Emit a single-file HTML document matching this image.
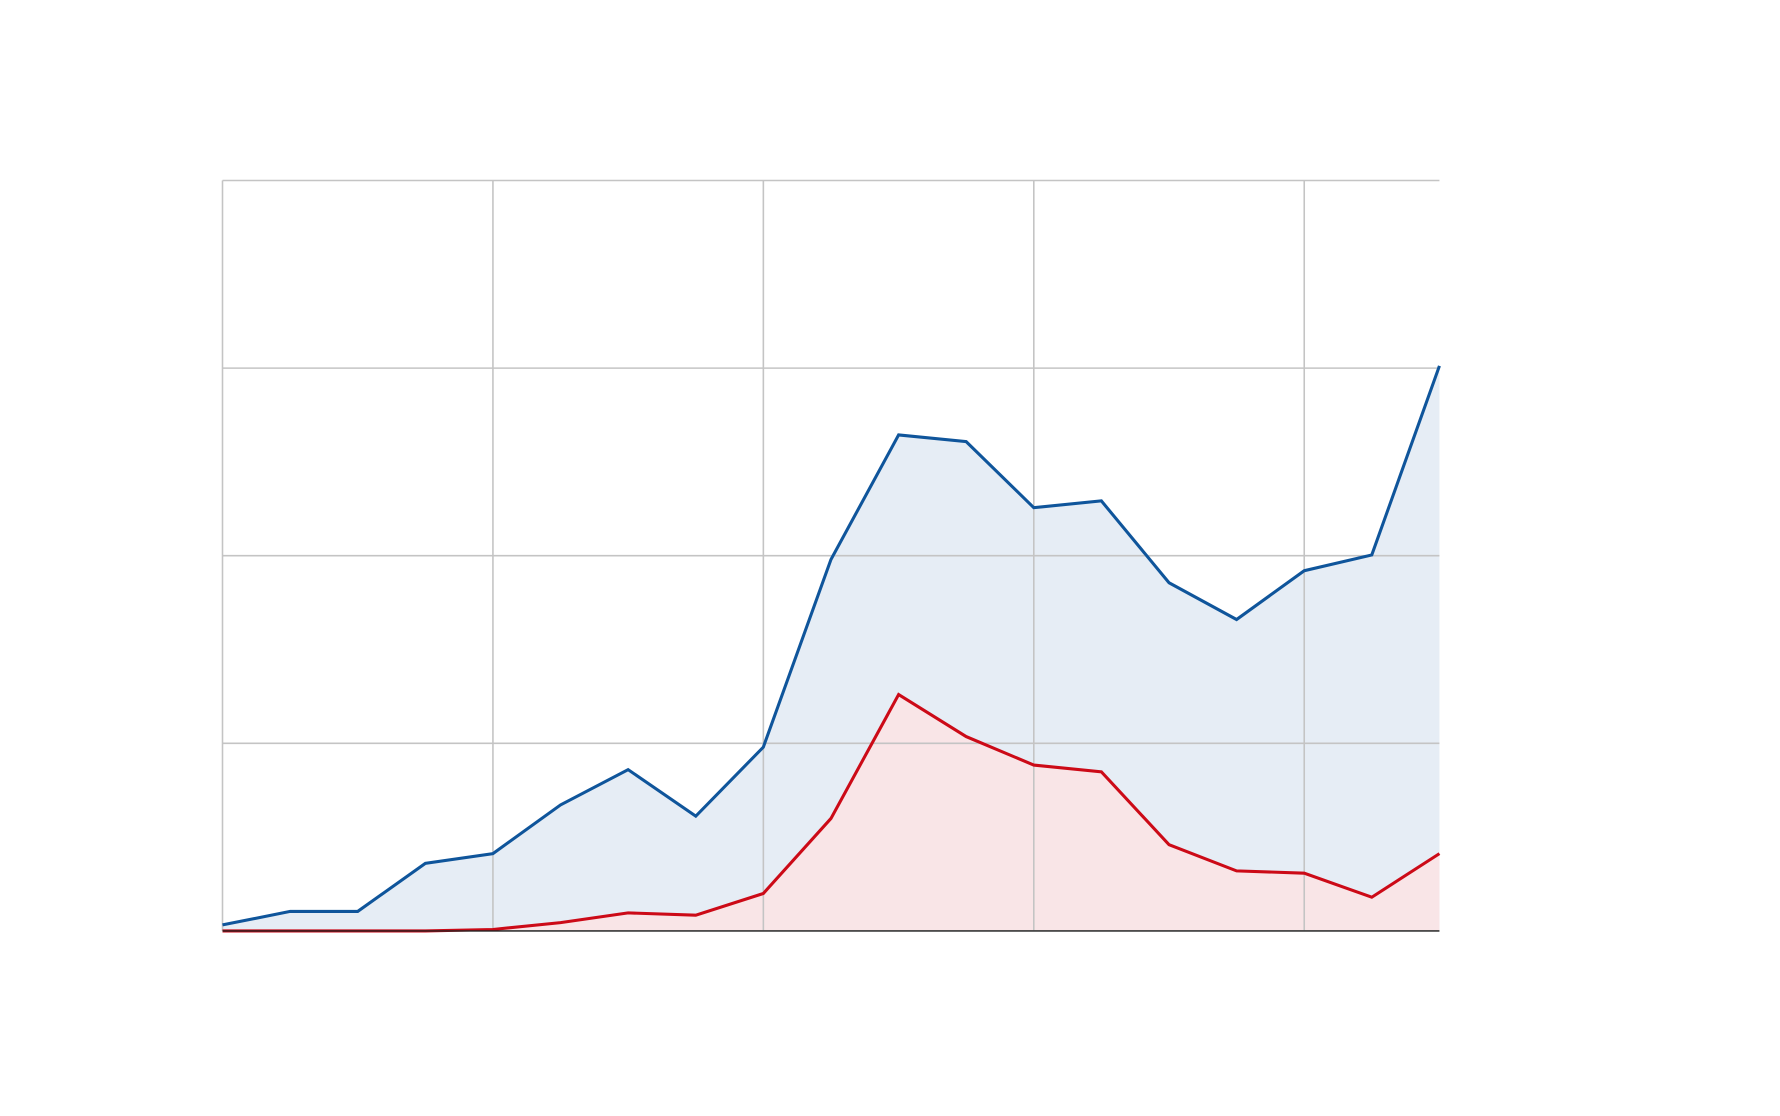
<!DOCTYPE html>
<html><head><meta charset="utf-8"><style>
html,body{margin:0;padding:0;background:#fff;}
svg{display:block;font-family:"Liberation Sans",sans-serif;}
</style></head><body>
<svg id="chart" width="1780" height="1116" viewBox="0 0 1568 983" preserveAspectRatio="none" xmlns="http://www.w3.org/2000/svg">
<g id="areas"></g>
<g id="grid"></g>
<g id="lines"></g>
</svg>
<script>
const categories = [0,1,2,3,4,5,6,7,8,9,10,11,12,13,14,15,16,17,18];
const blueValues = [0.8,2.6,2.6,9.0,10.3,16.8,21.5,15.3,24.5,49.5,66.1,65.2,56.4,57.3,46.4,41.5,48.0,50.1,75.3];
const redValues = [0,0,0,0,0.2,1.1,2.4,2.1,5.0,15.0,31.5,25.9,22.1,21.2,11.5,8.0,7.7,4.5,10.3];
const yTicks = [0,25,50,75,100];
const xTicks = [0,4,8,12,16];

const L=196,R=1268,T=159,B=820;
const xMax = 18;
function x(i){return L+(R-L)*i/xMax;}
function y(v){return B-(B-T)*v/100;}
const NS="http://www.w3.org/2000/svg";
function mk(tag,attrs,parent){const e=document.createElementNS(NS,tag);for(const k in attrs)e.setAttribute(k,attrs[k]);parent.appendChild(e);return e;}

const grid=document.getElementById('grid');
yTicks.forEach(t=>{
  const ln=mk('line',{x1:L,x2:R,y1:y(t),y2:y(t),stroke:'#c4c4c4','stroke-width':1.4},grid);
  
  
});
xTicks.forEach(t=>{
  const ln=mk('line',{x1:x(t),x2:x(t),y1:T,y2:B,stroke:'#c4c4c4','stroke-width':1.4},grid);
  
  
});

function pts(vals){return vals.map((v,i)=>x(categories[i]).toFixed(1)+','+y(v).toFixed(1)).join(' ');}
const areas=document.getElementById('areas'), lines=document.getElementById('lines');
function series(vals,stroke,fill,name){
  const a=mk('polygon',{points:x(0)+','+B+' '+pts(vals)+' '+x(xMax)+','+B,fill:fill},areas);
  
  
  const l=mk('polyline',{points:pts(vals),fill:'none',stroke:stroke,'stroke-width':2.7,'stroke-linejoin':'miter'},lines);
  
  
}
series(blueValues,'#0f559b','#e6edf5','blue-series');
series(redValues,'#cc0a17','#f9e5e7','red-series');
const base=mk('line',{x1:L,x2:R,y1:B,y2:B,stroke:'#222','stroke-width':1.3},lines);


</script>
</body></html>
